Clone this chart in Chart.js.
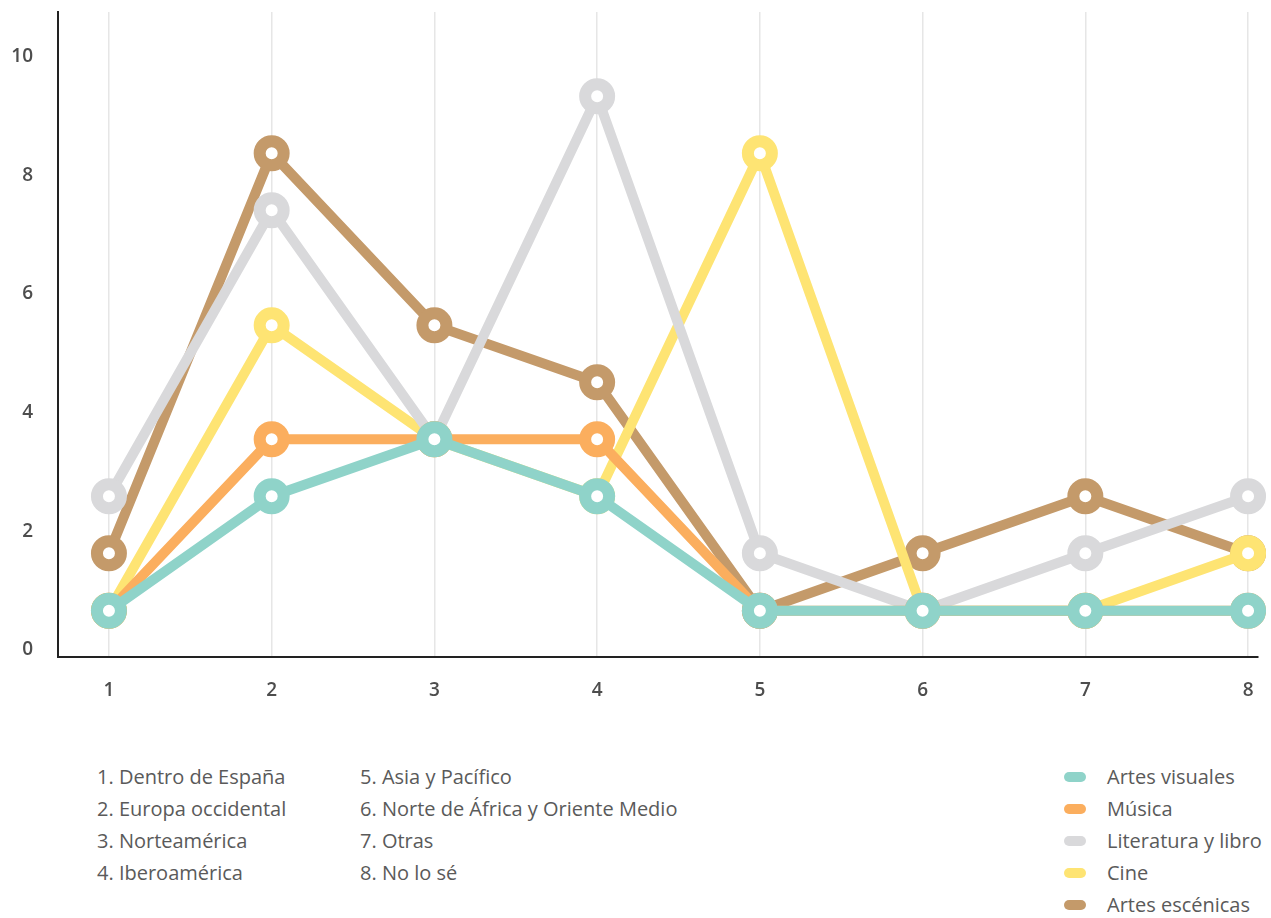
<!DOCTYPE html>
<html>
<head>
<meta charset="utf-8">
<script src="https://cdn.jsdelivr.net/npm/chart.js@4"></script>
<style>
  body { margin: 0; background: #fff; font-family: "Open Sans", "Liberation Sans", Arial, sans-serif; }
  #wrap { position: absolute; left: 0; top: 0; width: 1271px; height: 720px; }
  .legend { position: absolute; color: #5a5a5a; font-size: 20px; line-height: 32px; }
  .legend div { white-space: nowrap; }
  .sw { display: inline-block; width: 22px; height: 10px; border-radius: 5px; margin-right: 21px; vertical-align: 2px; }
</style>
</head>
<body>
<div id="wrap"><canvas id="chart"></canvas></div>
<div class="legend" id="col1" style="left:97px; top:761px;"></div>
<div class="legend" id="col2" style="left:360px; top:761px;"></div>
<div class="legend" id="series" style="left:1064px; top:761px;"></div>
<script>
const categories = [1, 2, 3, 4, 5, 6, 7, 8];
const categoryNames = ['Dentro de España', 'Europa occidental', 'Norteamérica', 'Iberoamérica',
  'Asia y Pacífico', 'Norte de África y Oriente Medio', 'Otras', 'No lo sé'];
const yTicks = [0, 2, 4, 6, 8, 10];

const seriesNames = ['Artes visuales', 'Música', 'Literatura y libro', 'Cine', 'Artes escénicas'];
const seriesColors = ['#8fd3c9', '#fbae5e', '#d9d9db', '#fee473', '#c49a6a'];

const artesVisuales = [0.66, 2.59, 3.55, 2.59, 0.66, 0.66, 0.66, 0.66];
const musica = [0.66, 3.55, 3.55, 3.55, 0.66, 0.66, 0.66, 0.66];
const literatura = [2.59, 7.41, 3.55, 9.33, 1.63, 0.66, 1.63, 2.59];
const cine = [0.66, 5.47, 3.55, 2.59, 8.37, 0.66, 0.66, 1.63];
const escenicas = [1.63, 8.37, 5.47, 4.51, 0.66, 1.63, 2.59, 1.63];
const seriesValues = [artesVisuales, musica, literatura, cine, escenicas];

const tickFont = { family: '"Open Sans", "Liberation Sans", sans-serif', size: 19, weight: '600' };

const datasets = seriesNames.map((name, i) => ({
  label: name,
  data: seriesValues[i].map((v, j) => ({ x: categories[j], y: v })),
  borderColor: seriesColors[i],
  borderWidth: 10,
  borderJoinStyle: 'round',
  tension: 0,
  pointRadius: 12,
  pointBorderWidth: 12,
  pointBorderColor: seriesColors[i],
  pointBackgroundColor: '#fff',
  pointHoverRadius: 12,
  clip: false
}));

new Chart(document.getElementById('chart'), {
  type: 'line',
  data: { datasets: datasets },
  options: {
    responsive: true,
    maintainAspectRatio: false,
    animation: false,
    events: [],
    layout: { autoPadding: false, padding: { top: 12, right: 13, left: 0, bottom: 0 } },
    plugins: { legend: { display: false }, tooltip: { enabled: false } },
    scales: {
      x: {
        type: 'linear',
        min: 0.687,
        max: 8.061,
        afterFit: s => { s.height = 63; s.paddingLeft = 0; s.paddingRight = 0; },
        afterBuildTicks: s => { s.ticks = categories.map(v => ({ value: v })); },
        grid: { color: '#e6e6e6', lineWidth: 1.5, drawTicks: false },
        border: { color: '#222', width: 2 },
        ticks: { color: '#4d4d4d', font: tickFont, padding: 22 }
      },
      y: {
        min: -0.118,
        max: 10.75,
        afterFit: s => { s.width = 58; s.paddingTop = 0; s.paddingBottom = 0; },
        afterBuildTicks: s => { s.ticks = yTicks.map(v => ({ value: v })); },
        grid: { color: 'rgba(0,0,0,0)', drawTicks: false },
        border: { color: '#222', width: 2 },
        ticks: { color: '#4d4d4d', font: tickFont, padding: 25 }
      }
    }
  }
});

const col1 = document.getElementById('col1');
const col2 = document.getElementById('col2');
categoryNames.forEach((n, i) => {
  const d = document.createElement('div');
  d.textContent = categories[i] + '. ' + n;
  (i < 4 ? col1 : col2).appendChild(d);
});
const series = document.getElementById('series');
seriesNames.forEach((n, i) => {
  const d = document.createElement('div');
  d.innerHTML = '<span class="sw" style="background:' + seriesColors[i] + '"></span>' + n;
  series.appendChild(d);
});
</script>
</body>
</html>
